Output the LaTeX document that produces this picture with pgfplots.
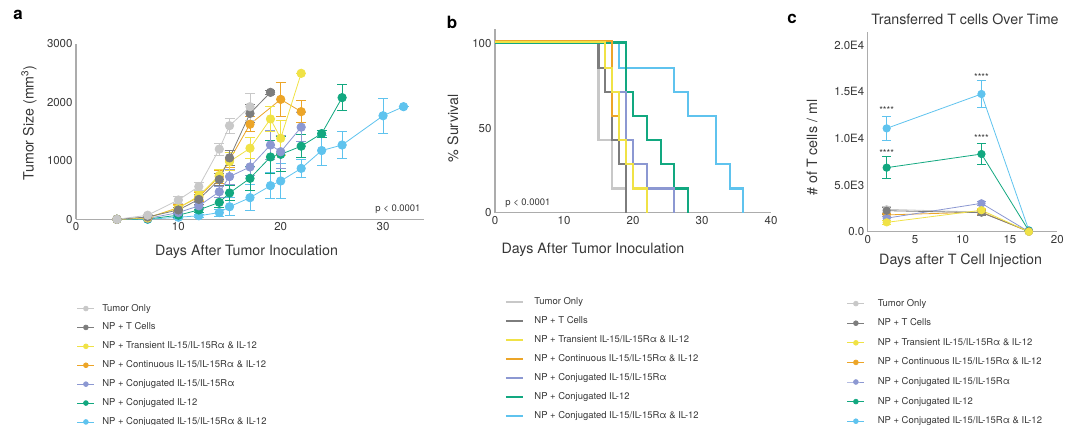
\documentclass[border=0pt]{standalone}
\usepackage{fontspec}
\setmainfont{TeX Gyre Heros}
\usepackage{pgfplots}
\pgfplotsset{compat=1.18}

\definecolor{cTumor}{RGB}{200,200,200}
\definecolor{cTcell}{RGB}{125,125,125}
\definecolor{cTrans}{RGB}{240,226,70}
\definecolor{cCont}{RGB}{236,165,40}
\definecolor{cCft}{RGB}{140,152,210}
\definecolor{cCtw}{RGB}{18,168,128}
\definecolor{cBoth}{RGB}{95,195,238}
\definecolor{axgray}{RGB}{172,172,172}
\definecolor{txt}{RGB}{55,55,55}

\pgfplotsset{
  panel/.style={
    scale only axis,
    axis x line=bottom, axis y line=left,
    axis line style={axgray, line width=1.1bp, -},
    major tick length=0pt,
    tick style={draw=none},
    ticklabel style={font=\fontsize{11.5}{13}\selectfont, text=txt},
    label style={font=\fontsize{14.3}{16}\selectfont, text=txt},
    /pgf/number format/assume math mode=true,
    /pgf/number format/1000 sep={},
    scaled ticks=false,
    clip=false,
    legend cell align=left,
    legend style={draw=none, fill=none, inner sep=0pt, outer sep=0pt,
      font=\fontsize{9.5}{11}\selectfont, text=txt,
      nodes={text height=7bp, text depth=2bp, inner sep=0.5bp}},
  },
  % growth curve series: filled circles, thin line, capped error bars
  growthser/.style={color=#1, mark=*, mark size=4.2bp,
    mark options={solid, fill=#1, draw=#1}, line width=0.8bp,
    error bars/y dir=both, error bars/y explicit,
    error bars/error bar style={line width=0.9bp, color=#1},
    error bars/error mark options={rotate=90, line width=0.9bp, color=#1, mark size=5bp}},
  tcellser/.style={color=#1, mark=*, mark size=3.7bp,
    mark options={solid, fill=#1, draw=#1}, line width=0.8bp,
    error bars/y dir=both, error bars/y explicit,
    error bars/error bar style={line width=0.9bp, color=#1},
    error bars/error mark options={rotate=90, line width=0.9bp, color=#1, mark size=4.5bp}},
  legdot/.style={color=#1, mark=*, mark size=2.4bp,
    mark options={solid, fill=#1, draw=#1}, line width=0.7bp},
  legline/.style={color=#1, line width=2bp, line legend},
  surv/.style={color=#1, line width=2.1bp, const plot mark left, no marks},
}

% ---------- tumour growth (mean, SEM) ----------
\pgfplotstableread{
d v e
4 0 0
7 70 20
10 330 60
12 560 70
14 1200 100
15 1600 130
17 1925 230
}\tumorA
\pgfplotstableread{
d v e
4 0 0
7 40 20
10 160 50
12 340 80
14 680 100
15 1050 130
17 1810 160
19 2170 40
}\tcellA
\pgfplotstableread{
d v e
4 0 0
7 25 10
10 190 50
12 400 80
14 750 110
15 985 150
17 1215 180
19 1715 220
20 1385 300
22 2495 0
}\transA
\pgfplotstableread{
d v e
4 0 0
7 25 10
10 200 50
12 380 80
14 730 110
15 1015 130
17 1625 130
20 2050 290
22 1840 190
}\contA
\pgfplotstableread{
d v e
4 0 0
7 15 10
10 115 40
12 230 60
14 470 90
15 730 130
17 895 150
19 1270 250
20 1155 280
22 1575 250
}\cftA
\pgfplotstableread{
d v e
4 0 0
7 5 5
10 70 30
12 160 50
14 290 80
15 450 130
17 700 200
19 1065 280
20 1110 300
22 1250 200
24 1465 60
26 2080 220
}\ctwA
\pgfplotstableread{
d v e
4 0 0
7 0 5
10 35 20
12 60 30
14 115 60
15 215 150
17 370 220
19 575 220
20 655 300
22 870 160
24 1175 260
26 1270 230
30 1770 300
32 1925 0
}\bothA

% ---------- transferred T cells (mean, SEM) ----------
\pgfplotstableread{
d v e
2 2400 300
12 2100 200
17 0 0
}\tumorC
\pgfplotstableread{
d v e
2 2250 400
12 2040 250
17 50 0
}\tcellC
\pgfplotstableread{
d v e
2 1000 200
12 2300 200
17 0 0
}\transC
\pgfplotstableread{
d v e
2 1800 200
12 2100 250
17 0 0
}\contC
\pgfplotstableread{
d v e
2 1450 200
12 3040 200
17 0 0
}\cftC
\pgfplotstableread{
d v e
2 6860 1150
12 8320 1150
17 100 0
}\ctwC
\pgfplotstableread{
d v e
2 11070 1250
12 14750 1400
17 150 0
}\bothC

\begin{document}
\begin{tikzpicture}
\useasboundingbox (0,0) rectangle (1065bp,425bp);

\node[font=\fontsize{17}{17}\selectfont\bfseries, text=black] at (18bp,410bp) {a};
\node[font=\fontsize{17}{17}\selectfont\bfseries, text=black] at (452bp,403bp) {b};
\node[font=\fontsize{17}{17}\selectfont\bfseries, text=black] at (792bp,406bp) {c};
\node[font=\fontsize{14.3}{16}\selectfont, text=txt] at (965bp,406bp) {Transferred T cells Over Time};

% ===== a: tumour size =====
\begin{axis}[panel, at={(76bp,205.7bp)}, anchor=south west,
  width=348bp, height=175.5bp,
  xmin=0, xmax=34, ymin=0, ymax=3000,
  xtick={0,10,20,30}, ytick={0,1000,2000,3000},
  xlabel={Days After Tumor Inoculation},
  ylabel={Tumor Size (mm\textsuperscript{3})},
  xlabel style={at={(axis description cs:0.49,-0.188)}, anchor=center},
  ylabel style={at={(axis description cs:-0.135,0.55)}, anchor=center},
  legend style={at={(axis description cs:0.003,-0.48)}, anchor=north west,
    row sep=8.9bp, /tikz/every odd column/.append style={column sep=7bp}},
]
\addlegendimage{legdot=cTumor}\addlegendentry{Tumor Only}
\addlegendimage{legdot=cTcell}\addlegendentry{NP + T Cells}
\addlegendimage{legdot=cTrans}\addlegendentry{NP + Transient IL-15/IL-15Rα \& IL-12}
\addlegendimage{legdot=cCont}\addlegendentry{NP + Continuous IL-15/IL-15Rα \& IL-12}
\addlegendimage{legdot=cCft}\addlegendentry{NP + Conjugated IL-15/IL-15Rα}
\addlegendimage{legdot=cCtw}\addlegendentry{NP + Conjugated IL-12}
\addlegendimage{legdot=cBoth}\addlegendentry{NP + Conjugated IL-15/IL-15Rα \& IL-12}
\addplot[growthser=cBoth, forget plot] table[x=d, y=v, y error=e] {\bothA};
\addplot[growthser=cCtw, forget plot] table[x=d, y=v, y error=e] {\ctwA};
\addplot[growthser=cCft, forget plot] table[x=d, y=v, y error=e] {\cftA};
\addplot[growthser=cCont, forget plot] table[x=d, y=v, y error=e] {\contA};
\addplot[growthser=cTrans, forget plot] table[x=d, y=v, y error=e] {\transA};
\addplot[growthser=cTcell, forget plot] table[x=d, y=v, y error=e] {\tcellA};
\addplot[growthser=cTumor, forget plot] table[x=d, y=v, y error=e] {\tumorA};
\node[anchor=east, font=\fontsize{9.5}{11}\selectfont, text=txt] at (axis description cs:1,0.055) {p < 0.0001};
\end{axis}

% ===== b: survival =====
\begin{axis}[panel, at={(495bp,212.3bp)}, anchor=south west,
  width=276bp, height=183.4bp,
  xmin=0, xmax=40, ymin=0, ymax=108.3,
  xtick={0,10,20,30,40}, ytick={0,50,100},
  xlabel={Days After Tumor Inoculation},
  ylabel={\% Survival},
  xlabel style={at={(axis description cs:0.355,-0.2)}, anchor=center},
  ylabel style={at={(axis description cs:-0.152,0.46)}, anchor=center},
  legend style={at={(axis description cs:0.036,-0.46)}, anchor=north west,
    row sep=9.05bp, /tikz/every odd column/.append style={column sep=10bp}},
]
\addlegendimage{legline=cTumor}\addlegendentry{Tumor Only}
\addlegendimage{legline=cTcell}\addlegendentry{NP + T Cells}
\addlegendimage{legline=cTrans}\addlegendentry{NP + Transient IL-15/IL-15Rα \& IL-12}
\addlegendimage{legline=cCont}\addlegendentry{NP + Continuous IL-15/IL-15Rα \& IL-12}
\addlegendimage{legline=cCft}\addlegendentry{NP + Conjugated IL-15/IL-15Rα}
\addlegendimage{legline=cCtw}\addlegendentry{NP + Conjugated IL-12}
\addlegendimage{legline=cBoth}\addlegendentry{NP + Conjugated IL-15/IL-15Rα \& IL-12}
\addplot[surv=cTumor, forget plot] coordinates {(0,100) (15,42.86) (17,14.29) (19,0)};
\addplot[surv=cTcell, forget plot] coordinates {(0,100.3) (15,85.71) (16,71.43) (17,42.86) (18,28.57) (19,0)};
\addplot[surv=cBoth, forget plot] coordinates {(0,100.4) (18,85.71) (26,71.43) (28,57.14) (32,28.57) (34,14.29) (36,0)};
\addplot[surv=cCtw, forget plot] coordinates {(0,100.5) (19,71.43) (20,57.14) (22,42.86) (24,28.57) (26,14.29) (28,0)};
\addplot[surv=cCft, forget plot] coordinates {(0,100.6) (16,85.71) (17,71.43) (19,42.86) (20,28.57) (22,14.29) (26,0)};
\addplot[surv=cCont, forget plot] coordinates {(0,101.2) (17,57.14) (18,42.86) (19,28.57) (20,14.29) (22,0)};
\addplot[surv=cTrans, forget plot] coordinates {(0,100.8) (16,85.71) (17,71.43) (18,42.86) (19,28.57) (20,14.29) (22,0)};
\node[anchor=west, font=\fontsize{9.5}{11}\selectfont, text=txt] at (axis description cs:0.025,0.05) {p < 0.0001};
\end{axis}

% ===== c: transferred T cells =====
\begin{axis}[panel, at={(867.7bp,193.3bp)}, anchor=south west,
  width=189.6bp, height=200bp,
  xmin=0, xmax=20, ymin=0, ymax=21425,
  xtick={0,5,10,15,20},
  ytick={0,5000,10000,15000,20000},
  yticklabels={0.0,5.0E3,1.0E4,1.5E4,2.0E4},
  xlabel={Days after T Cell Injection},
  ylabel={\# of T cells / ml},
  xlabel style={at={(axis description cs:0.49,-0.147)}, anchor=center},
  ylabel style={at={(axis description cs:-0.294,0.42)}, anchor=center},
  legend style={at={(axis description cs:-0.109,-0.3345)}, anchor=north west,
    row sep=9.6bp, /tikz/every odd column/.append style={column sep=12.5bp}},
]
\addlegendimage{legdot=cTumor}\addlegendentry{Tumor Only}
\addlegendimage{legdot=cTcell}\addlegendentry{NP + T Cells}
\addlegendimage{legdot=cTrans}\addlegendentry{NP + Transient IL-15/IL-15Rα \& IL-12}
\addlegendimage{legdot=cCont}\addlegendentry{NP + Continuous IL-15/IL-15Rα \& IL-12}
\addlegendimage{legdot=cCft}\addlegendentry{NP + Conjugated IL-15/IL-15Rα}
\addlegendimage{legdot=cCtw}\addlegendentry{NP + Conjugated IL-12}
\addlegendimage{legdot=cBoth}\addlegendentry{NP + Conjugated IL-15/IL-15Rα \& IL-12}
\addplot[tcellser=cBoth, forget plot] table[x=d, y=v, y error=e] {\bothC};
\addplot[tcellser=cCtw, forget plot] table[x=d, y=v, y error=e] {\ctwC};
\addplot[tcellser=cTumor, forget plot] table[x=d, y=v, y error=e] {\tumorC};
\addplot[tcellser=cCont, forget plot] table[x=d, y=v, y error=e] {\contC};
\addplot[tcellser=cCft, forget plot] table[x=d, y=v, y error=e] {\cftC};
\addplot[tcellser=cTcell, forget plot] table[x=d, y=v, y error=e] {\tcellC};
\addplot[tcellser=cTrans, forget plot] table[x=d, y=v, y error=e] {\transC};
\node[font=\fontsize{9.5}{9.5}\selectfont, text=txt] at (axis cs:2,13000) {****};
\node[font=\fontsize{9.5}{9.5}\selectfont, text=txt] at (axis cs:12,16550) {****};
\node[font=\fontsize{9.5}{9.5}\selectfont, text=txt] at (axis cs:2,8450) {****};
\node[font=\fontsize{9.5}{9.5}\selectfont, text=txt] at (axis cs:12,9990) {****};
\end{axis}
\end{tikzpicture}
\end{document}
